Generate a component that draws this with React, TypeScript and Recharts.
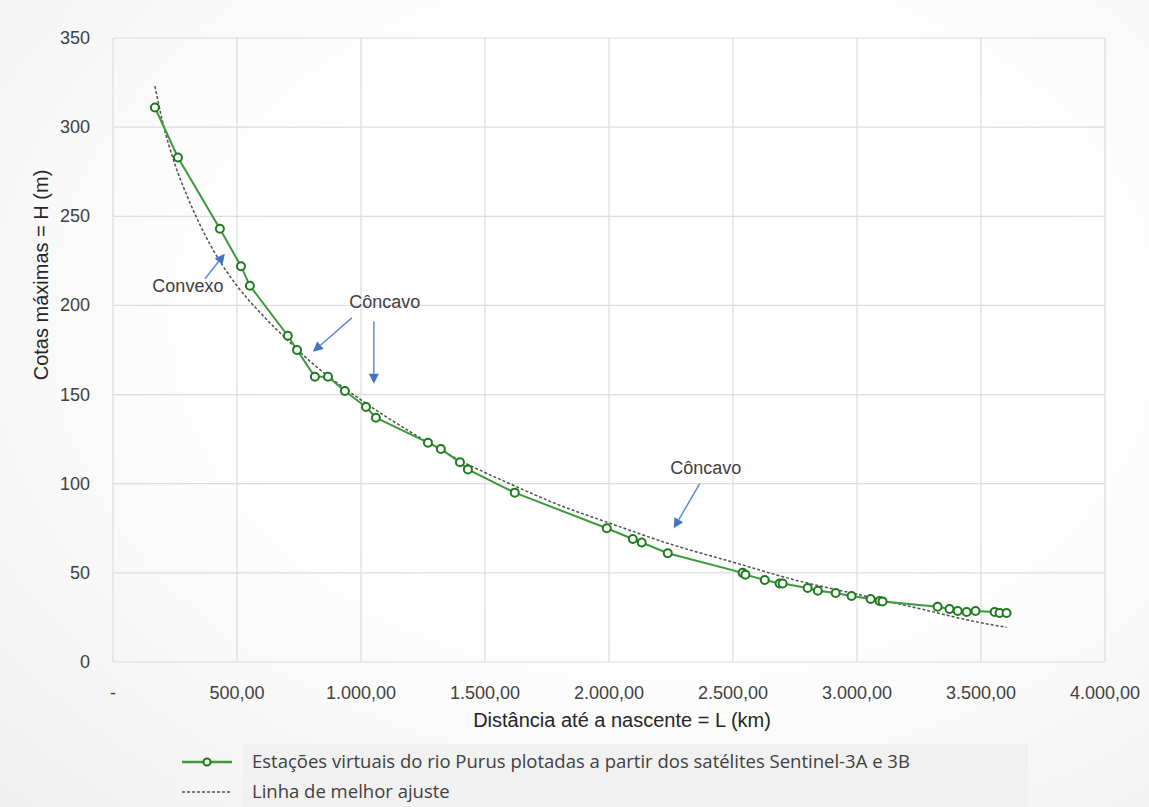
import React from 'react'
import { LineChart, Line, XAxis, YAxis, CartesianGrid, ReferenceLine, ReferenceDot } from 'recharts'

// Estações virtuais (distância até a nascente em km, cota máxima em m)
const distL = [169, 262, 431, 516, 552, 705, 742, 814, 867, 935, 1020, 1060, 1270, 1322, 1399, 1431, 1620, 1991, 2096, 2132, 2237, 2539, 2550, 2628, 2688, 2700, 2801, 2842, 2914, 2978, 3055, 3091, 3103, 3325, 3373, 3406, 3442, 3478, 3555, 3575, 3603]
const cotaH = [311, 283, 243, 222, 211, 183, 175, 160, 160, 152, 143, 137, 123, 119.5, 112, 108, 95, 75, 69, 67, 61, 50, 49, 46, 44, 44, 41.5, 40, 38.7, 37, 35.3, 34.2, 34, 31, 29.7, 28.6, 28, 28.6, 28, 27.5, 27.5]

// Linha de melhor ajuste
const fitL = [169, 200, 250, 300, 400, 500, 600, 700, 800, 1000, 1200, 1400, 1600, 1800, 2000, 2250, 2500, 2750, 3000, 3250, 3500, 3603]
const fitH = [323, 303, 279, 261, 232, 211, 195, 181, 168, 147, 129, 113, 100, 88, 78, 66, 56, 46, 38, 30, 22, 19.5]

const xTicks = [0, 500, 1000, 1500, 2000, 2500, 3000, 3500, 4000]
const yTicks = [0, 50, 100, 150, 200, 250, 300, 350]

// Anotações: texto e setas
const notes = [
  { text: 'Convexo', l: 302, h: 211 },
  { text: 'Côncavo', l: 1096, h: 202 },
  { text: 'Côncavo', l: 2390, h: 109 },
]
const arrows = [
  { from: [371, 215], to: [451, 229] },
  { from: [963, 193], to: [806, 174] },
  { from: [1052, 191], to: [1052, 156] },
  { from: [2366, 100], to: [2261, 75] },
]

const stationData = distL.map((l, i) => ({ l, h: cotaH[i] }))
const fitData = fitL.map((l, i) => ({ l, h: fitH[i] }))

const FONT = '"Liberation Sans", Arial, sans-serif'
const LEGEND_FONT = '"Open Sans", "Noto Sans", sans-serif'

const fmtBR = (v: number) => {
  if (v === 0) return '-'
  const int = Math.floor(v).toString().replace(/\B(?=(\d{3})+(?!\d))/g, '.')
  return `${int},00`
}

const XTick = ({ x, y, payload }: any) => (
  <text x={x} y={y + 37} textAnchor="middle" fill="#404040" fontSize={18} fontFamily={FONT}>
    {fmtBR(payload.value)}
  </text>
)

const YTick = ({ x, y, payload }: any) => (
  <text x={x - 23} y={y + 6} textAnchor="end" fill="#404040" fontSize={18} fontFamily={FONT}>
    {payload.value}
  </text>
)

const Arrow = (props: any) => {
  const { x1, y1, x2, y2 } = props
  const ang = Math.atan2(y2 - y1, x2 - x1)
  const len = 10
  const w = 5
  const bx = x2 - len * Math.cos(ang)
  const by = y2 - len * Math.sin(ang)
  const px = -Math.sin(ang) * w
  const py = Math.cos(ang) * w
  return (
    <g>
      <line x1={x1} y1={y1} x2={bx} y2={by} stroke="#5b8bdc" strokeWidth={1.5} />
      <polygon points={`${x2},${y2} ${bx + px},${by + py} ${bx - px},${by - py}`} fill="#4472c4" />
    </g>
  )
}

export default function App() {
  return (
    <div
      style={{
        position: 'absolute',
        top: 0,
        left: 0,
        width: 1149,
        height: 807,
        background: 'radial-gradient(ellipse at 58% 40%, #ffffff 45%, #f0f0f0 100%)',
        overflow: 'hidden',
      }}
    >
      <LineChart width={1149} height={740} margin={{ top: 38, right: 44, bottom: 8, left: 0 }}>
        <CartesianGrid stroke="#dcdcdc" strokeWidth={1.2} />
        <XAxis
          dataKey="l"
          type="number"
          domain={[0, 4000]}
          ticks={xTicks}
          height={70}
          axisLine={false}
          tickLine={false}
          tickSize={0}
          tickMargin={0}
          tick={<XTick />}
          interval={0}
        />
        <YAxis
          type="number"
          domain={[0, 350]}
          ticks={yTicks}
          width={113}
          axisLine={false}
          tickLine={false}
          tickSize={0}
          tickMargin={0}
          tick={<YTick />}
          interval={0}
        />
        <Line
          data={fitData}
          dataKey="h"
          type="monotone"
          stroke="#505050"
          strokeWidth={1.5}
          strokeDasharray="3 2"
          dot={false}
          isAnimationActive={false}
        />
        <Line
          data={stationData}
          dataKey="h"
          type="linear"
          stroke="#3b9a3b"
          strokeWidth={2}
          dot={{ r: 4, stroke: '#1d7a1d', strokeWidth: 2, fill: '#ffffff' }}
          isAnimationActive={false}
        />
        {arrows.map((a, i) => (
          <ReferenceLine
            key={`a${i}`}
            segment={[
              { x: a.from[0], y: a.from[1] },
              { x: a.to[0], y: a.to[1] },
            ]}
            ifOverflow="visible"
            shape={Arrow}
          />
        ))}
        {notes.map((n, i) => (
          <ReferenceDot
            key={`n${i}`}
            x={n.l}
            y={n.h}
            ifOverflow="visible"
            shape={(p: any) => (
              <text x={p.cx} y={p.cy + 6} textAnchor="middle" fill="#404040" fontSize={18} fontFamily={FONT}>
                {n.text}
              </text>
            )}
          />
        ))}
      </LineChart>

      {/* eixo Y */}
      <div
        style={{
          position: 'absolute',
          left: 41,
          top: 275,
          transform: 'translate(-50%, -50%) rotate(-90deg)',
          whiteSpace: 'nowrap',
          fontFamily: FONT,
          fontSize: 20,
          color: '#262626',
        }}
      >
        Cotas máximas = H (m)
      </div>

      {/* eixo X */}
      <div
        style={{
          position: 'absolute',
          left: 622,
          top: 720,
          transform: 'translate(-50%, -50%)',
          whiteSpace: 'nowrap',
          fontFamily: FONT,
          fontSize: 20,
          color: '#262626',
        }}
      >
        Distância até a nascente = L (km)
      </div>

      {/* legenda */}
      <div style={{ position: 'absolute', left: 243, top: 744, width: 785, height: 63, background: '#f1f1f1' }} />
      <svg style={{ position: 'absolute', left: 0, top: 740 }} width={260} height={67}>
        <line x1={182} y1={22} x2={232} y2={22} stroke="#3b9a3b" strokeWidth={2.5} />
        <circle cx={207} cy={22} r={3.5} stroke="#1d7a1d" strokeWidth={2} fill="#fff" />
        <line x1={182} y1={52} x2={232} y2={52} stroke="#505050" strokeWidth={1.5} strokeDasharray="3 2" />
      </svg>
      <div
        style={{
          position: 'absolute',
          left: 252,
          top: 747,
          fontFamily: LEGEND_FONT,
          fontSize: 18.5,
          color: '#404040',
          whiteSpace: 'nowrap',
          lineHeight: '28px',
        }}
      >
        Estações virtuais do rio Purus plotadas a partir dos satélites Sentinel-3A e 3B
      </div>
      <div
        style={{
          position: 'absolute',
          left: 252,
          top: 777,
          fontFamily: LEGEND_FONT,
          fontSize: 18.5,
          color: '#404040',
          whiteSpace: 'nowrap',
          lineHeight: '28px',
        }}
      >
        Linha de melhor ajuste
      </div>
    </div>
  )
}
